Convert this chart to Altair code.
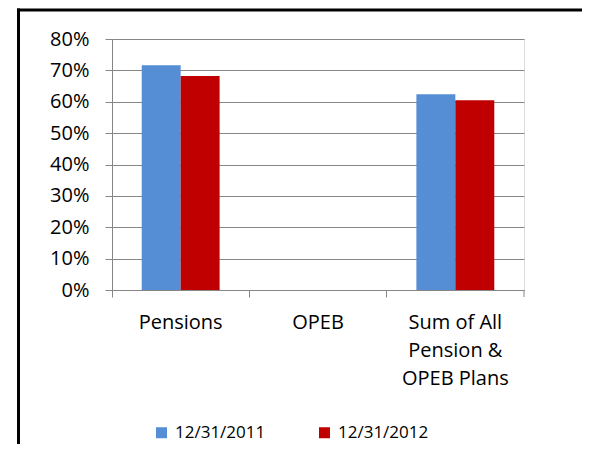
import altair as alt
import pandas as pd

categories = ["Pensions", "OPEB", "Sum of All|Pension &|OPEB Plans"]
dates = ["12/31/2011", "12/31/2012"]
bar_category = ["Pensions", "Pensions", "Sum of All|Pension &|OPEB Plans", "Sum of All|Pension &|OPEB Plans"]
bar_date = ["12/31/2011", "12/31/2012", "12/31/2011", "12/31/2012"]
bar_value = [0.716, 0.682, 0.624, 0.605]
colors = ["#558ED5", "#C00000"]

df = pd.DataFrame({"category": bar_category, "date": bar_date, "value": bar_value})

FONT = "Open Sans"
GRID = "#868686"

bars = alt.Chart(df).mark_bar(strokeWidth=0).encode(
    x=alt.X(
        "category:N",
        scale=alt.Scale(domain=categories, paddingInner=0, paddingOuter=0),
        axis=alt.Axis(
            title=None,
            labelAngle=0,
            labelExpr="split(datum.label, '|')",
            labelLineHeight=28,
            labelFont=FONT,
            labelFontSize=20,
            labelColor="#000000",
            labelPadding=15,
            tickSize=7,
            tickColor=GRID,
            domainColor=GRID,
            bandPosition=0,
            grid=False,
        ),
    ),
    xOffset=alt.XOffset(
        "date:N",
        scale=alt.Scale(domain=dates, paddingInner=0, paddingOuter=0.763),
    ),
    y=alt.Y(
        "value:Q",
        scale=alt.Scale(domain=[0, 0.8], nice=False),
        axis=alt.Axis(
            title=None,
            format=".0%",
            values=[0, 0.1, 0.2, 0.3, 0.4, 0.5, 0.6, 0.7, 0.8],
            labelFont=FONT,
            labelFontSize=20,
            labelColor="#000000",
            labelPadding=16,
            tickSize=7,
            tickColor=GRID,
            domainColor=GRID,
            grid=True,
            gridColor=GRID,
        ),
    ),
    color=alt.Color(
        "date:N",
        scale=alt.Scale(domain=dates, range=colors),
        legend=alt.Legend(
            title=None,
            orient="none",
            legendX=41,
            legendY=385,
            direction="horizontal",
            symbolType="square",
            symbolSize=121,
            symbolStrokeWidth=0,
            labelFont=FONT,
            labelFontSize=17,
            labelColor="#000000",
            labelOffset=5,
            columnPadding=50,
            padding=0,
        ),
    ),
)

deco = pd.DataFrame({"a": [0]})
right_tick = alt.Chart(deco).mark_rule(color=GRID, strokeWidth=1).encode(
    x=alt.value(412), y=alt.value(251), y2=alt.value(258)
)
border_left = alt.Chart(deco).mark_rule(color="black", strokeWidth=3, strokeCap="butt").encode(
    x=alt.value(-93.5), y=alt.value(-30.5), y2=alt.value(405)
)
border_top = alt.Chart(deco).mark_rule(color="black", strokeWidth=3, strokeCap="butt").encode(
    x=alt.value(-95), x2=alt.value(470), y=alt.value(-29)
)

chart = alt.layer(bars, right_tick, border_left, border_top).properties(
    width=412,
    height=251,
    autosize=alt.AutoSizeParams(type="none"),
    padding={"left": 104, "top": 31, "right": 64, "bottom": 160},
).configure_view(stroke=None).configure(background="white")

chart.save("out.html", embed_options={"renderer": "svg", "actions": False})
